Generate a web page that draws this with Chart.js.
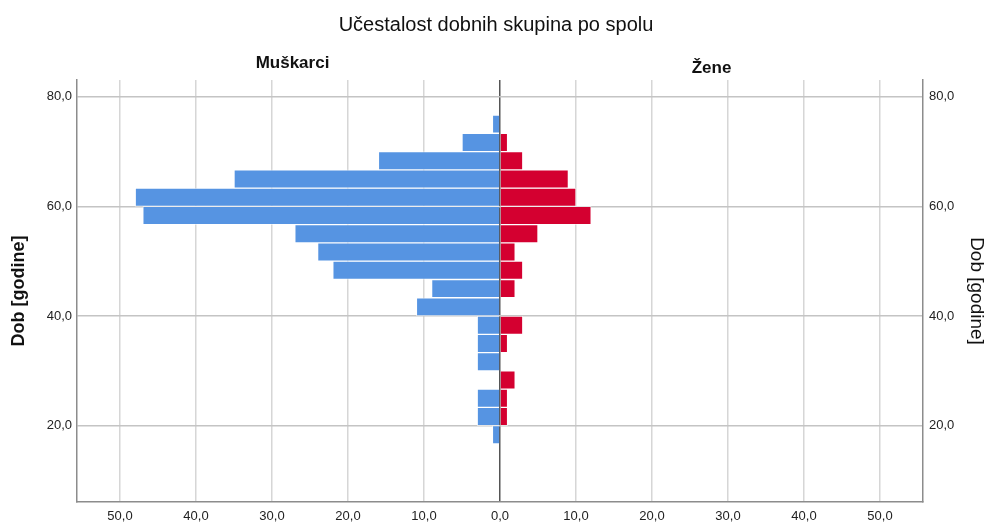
<!DOCTYPE html>
<html>
<head>
<meta charset="utf-8">
<title>Učestalost dobnih skupina po spolu</title>
<script src="https://cdn.jsdelivr.net/npm/chart.js@4.4.1/dist/chart.umd.min.js"></script>
<style>
  html, body { margin: 0; padding: 0; background: #fff; }
  #wrap { width: 992px; height: 523px; }
</style>
</head>
<body>
<div id="wrap"><canvas id="pyramid"></canvas></div>
<script>
// sredine dobnih razreda (razred = 3,33 godine)
const ageMid = [18.333, 21.667, 25, 28.333, 31.667, 35, 38.333, 41.667, 45, 48.333, 51.667, 55, 58.333, 61.667, 65, 68.333, 71.667, 75];
const men   = [1, 3, 3, 0, 3, 3, 3, 11, 9, 22, 24, 27, 47, 48, 35, 16, 5, 1];
const women = [0, 1, 1, 2, 0, 1, 3, 0, 2, 3, 2, 5, 12, 10, 9, 3, 1, 0];
const ageTicks = [20, 40, 60, 80];
const countTicks = [-50, -40, -30, -20, -10, 0, 10, 20, 30, 40, 50];
const sexLabels = ['Muškarci', 'Žene'];

const FONT = "'Liberation Sans', Arial, sans-serif";
Chart.defaults.font.family = FONT;
Chart.defaults.color = '#222';

const fmt = v => v.toFixed(1).replace('.', ',');

// natpisi iznad polovica grafa
const sexLabelPlugin = {
  id: 'sexLabels',
  afterDraw(chart) {
    const { ctx, chartArea, scales } = chart;
    const zero = scales.x.getPixelForValue(0);
    ctx.save();
    ctx.font = 'bold 17px ' + FONT;
    ctx.fillStyle = '#111';
    ctx.textAlign = 'center';
    ctx.textBaseline = 'middle';
    ctx.fillText(sexLabels[0], (chartArea.left + zero) / 2 + 4, chartArea.top - 17);
    ctx.fillText(sexLabels[1], (zero + chartArea.right) / 2, chartArea.top - 12);
    ctx.restore();
  }
};

const ageAxis = (pos, width) => ({
  type: 'linear',
  position: pos,
  min: 6.08,
  max: 83.05,
  offset: false,
  afterBuildTicks: s => { s.ticks = ageTicks.map(v => ({ value: v })); },
  afterFit: s => { s.width = width; },
  ticks: { callback: v => fmt(v), font: { size: 13 }, padding: pos === 'left' ? 5 : 6 },
  grid: { display: pos === 'left', offset: false, color: '#c4c4c4', lineWidth: 1.5, drawTicks: false },
  border: { display: true, color: '#8c8c8c', width: 1.5 },
  title: {
    display: true,
    text: 'Dob [godine]',
    color: '#111',
    font: { size: pos === 'left' ? 18 : 19, weight: pos === 'left' ? 'bold' : 'normal' },
    padding: { top: pos === 'left' ? 8 : 4, bottom: 0 }
  }
});

new Chart(document.getElementById('pyramid'), {
  type: 'bar',
  data: {
    datasets: [
      {
        label: sexLabels[0],
        data: ageMid.map((a, i) => ({ y: a, x: -men[i] })),
        backgroundColor: '#5694e2',
        borderColor: 'rgba(255,255,255,0.55)',
        borderWidth: 1,
        grouped: false,
        barPercentage: 1,
        categoryPercentage: 1
      },
      {
        label: sexLabels[1],
        data: ageMid.map((a, i) => ({ y: a, x: women[i] })),
        backgroundColor: '#d40030',
        borderColor: 'rgba(255,255,255,0.55)',
        borderWidth: 1,
        grouped: false,
        barPercentage: 1,
        categoryPercentage: 1
      }
    ]
  },
  options: {
    indexAxis: 'y',
    responsive: true,
    maintainAspectRatio: false,
    animation: false,
    layout: { padding: 0 },
    scales: {
      x: {
        type: 'linear',
        min: -55.66,
        max: 55.66,
        afterBuildTicks: s => { s.ticks = countTicks.map(v => ({ value: v })); },
        afterFit: s => { s.height = 21; },
        ticks: { callback: v => fmt(Math.abs(v)), font: { size: 13 }, padding: 7, maxRotation: 0, autoSkip: false },
        grid: {
          color: c => (c.tick && c.tick.value === 0 ? '#555' : '#d6d6d6'),
          lineWidth: 1.5,
          drawTicks: false
        },
        border: { display: true, color: '#8c8c8c', width: 1.5 }
      },
      y: ageAxis('left', 77),
      y2: ageAxis('right', 69)
    },
    plugins: {
      legend: { display: false },
      tooltip: { enabled: false },
      title: {
        display: true,
        text: 'Učestalost dobnih skupina po spolu',
        color: '#111',
        font: { size: 20, weight: 'normal' },
        padding: { top: 13, bottom: 43 }
      }
    }
  },
  plugins: [sexLabelPlugin]
});
</script>
</body>
</html>
